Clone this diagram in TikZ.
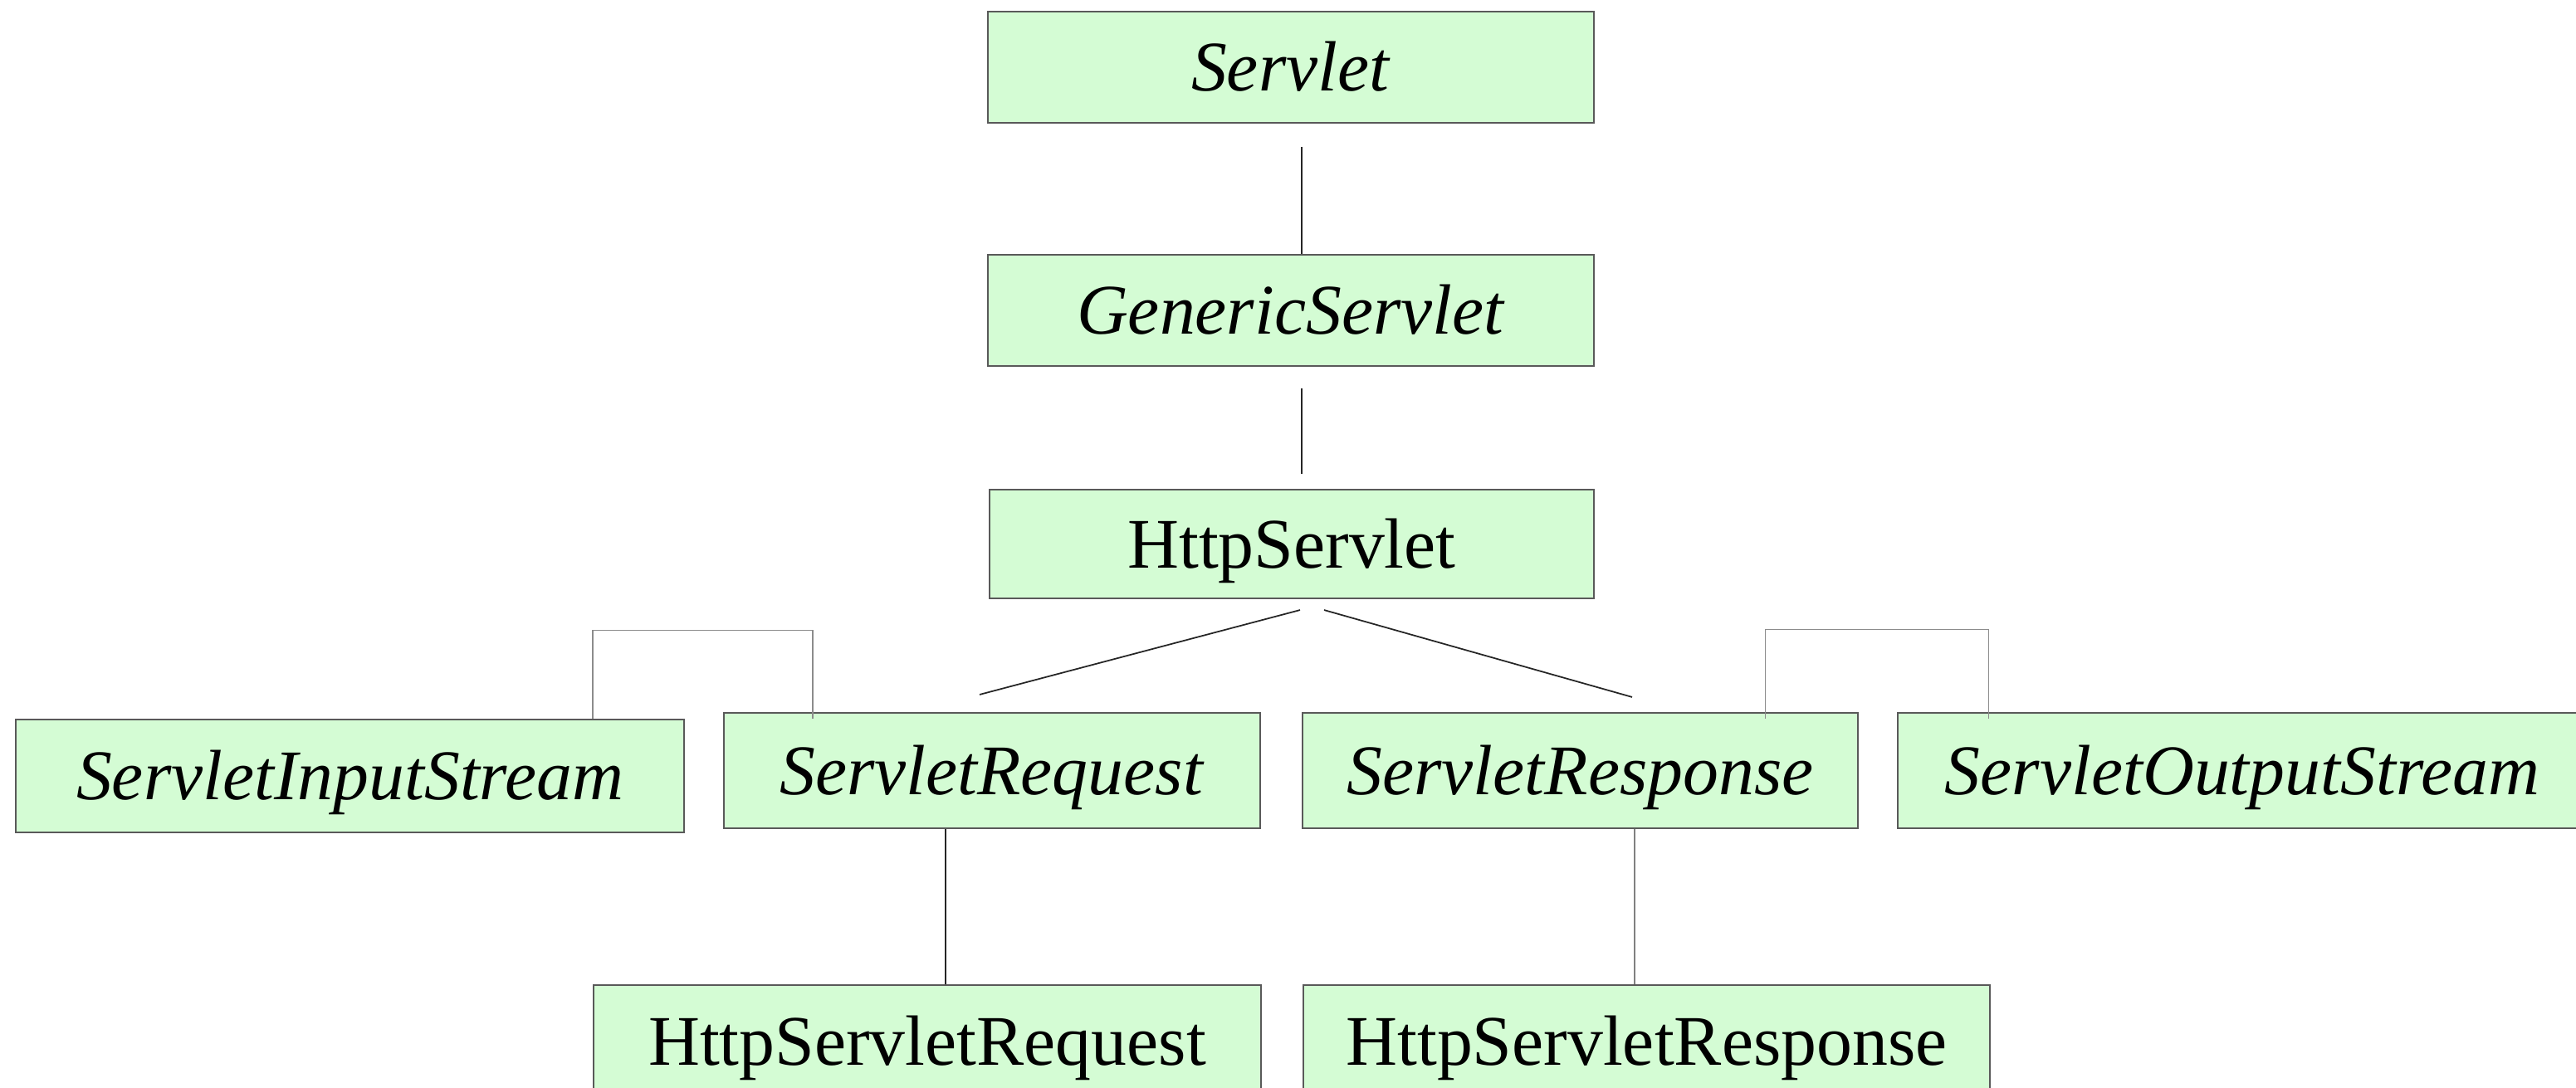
\documentclass[tikz,border=0pt]{standalone}
\usepackage{fontspec}
\setmainfont{Liberation Serif}
\definecolor{klassgruen}{RGB}{212,252,212}
\tikzset{
    klasse/.style={draw=black!65,line width=.6pt,fill=klassgruen,inner sep=0pt,
        text height=.57cm,text depth=0pt,font=\fontsize{24.4}{29}\selectfont},
    link/.style={draw=black!85,line width=.5pt},
    klammer/.style={draw=black!45,line width=.3pt}
}
\begin{document}
\begin{tikzpicture}
                \useasboundingbox (0,0) rectangle (31.03,-13.11);
                \node[klasse,minimum width=7.3cm,minimum height=1.34cm] (servlet) at (15.55,-.81) {\textit{Servlet}};
                \node[klasse,minimum width=7.3cm,minimum height=1.34cm] (generic) at (15.55,-3.74) {\textit{GenericServlet}};
                \node[klasse,minimum width=7.28cm,minimum height=1.31cm] (http) at (15.56,-6.555) {HttpServlet};
                \node[klasse,minimum width=8.05cm,minimum height=1.36cm] (instream) at (4.215,-9.35) {\textit{ServletInputStream}};
                \node[klasse,minimum width=6.46cm,minimum height=1.39cm] (request) at (11.95,-9.285) {\textit{ServletRequest}};
                \node[klasse,minimum width=6.69cm,minimum height=1.39cm] (response) at (19.035,-9.285) {\textit{ServletResponse}};
                \node[klasse,minimum width=8.3cm,minimum height=1.39cm] (outstream) at (27.01,-9.285) {\textit{ServletOutputStream}};
                \node[klasse,minimum width=8.04cm,minimum height=1.36cm] (httpreq) at (11.17,-12.55) {HttpServletRequest};
                \node[klasse,minimum width=8.27cm,minimum height=1.36cm] (httpresp) at (19.835,-12.55) {HttpServletResponse};
                \draw[link] ([xshift=.13cm,yshift=-.28cm]servlet.south) coordinate (s1) -- (s1 |- generic.north);
                \draw[link] ([xshift=.13cm,yshift=-.26cm]generic.south) coordinate (s2) -- ([yshift=.18cm]s2 |- http.north);
                \draw[link] ([xshift=.1cm,yshift=-.13cm]http.south) -- ([xshift=-.15cm,yshift=.21cm]request.north);
                \draw[link] ([xshift=.39cm,yshift=-.13cm]http.south) -- ([xshift=.625cm,yshift=.18cm]response.north);
                \draw[link] ([xshift=-.56cm]request.south) coordinate (s3) -- (s3 |- httpreq.north);
                \draw[link,draw=black!50] ([xshift=.655cm]response.south) coordinate (s4) -- (s4 |- httpresp.north);
                \draw[klammer] ([xshift=2.925cm]instream.north) -- ++(0,1.06) -| ([xshift=-2.16cm,yshift=-.08cm]request.north);
                \draw[klammer] ([xshift=2.225cm,yshift=-.08cm]response.north) -- ++(0,1.07) -| ([xshift=-3.06cm,yshift=-.08cm]outstream.north);
\end{tikzpicture}
\end{document}
